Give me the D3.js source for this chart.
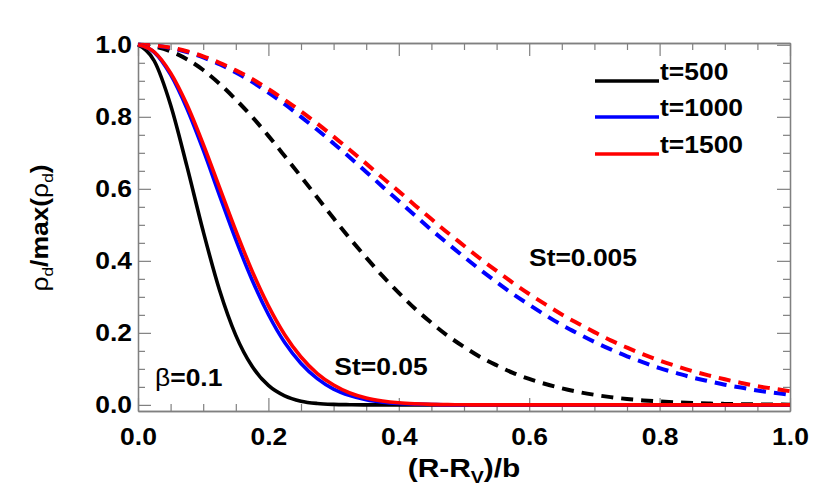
<!DOCTYPE html>
<html>
<head>
<meta charset="utf-8">
<script src="https://cdn.jsdelivr.net/npm/d3@7"></script>
<style>
  body { margin: 0; background: #fff; }
  text { font-family: "Liberation Sans", Arial, sans-serif; font-weight: bold; }
</style>
</head>
<body>
<svg id="chart" width="830" height="499"></svg>
<script>
// sample positions along (R-Rv)/b
const xs = d3.range(41).map((i) => i * 0.025);

// St=0.05 (solid)
const solid500 = [1, 0.955, 0.833, 0.663, 0.482, 0.319, 0.193, 0.107, 0.054, 0.025, 0.0104,
  0.004, 0.0014, 0.0005, 0, 0, 0, 0, 0, 0, 0, 0, 0, 0, 0, 0, 0, 0, 0, 0, 0, 0, 0, 0, 0, 0, 0, 0, 0, 0, 0];
const solid1000 = [1, 0.979, 0.917, 0.823, 0.708, 0.582, 0.459, 0.347, 0.251, 0.173, 0.115,
  0.073, 0.044, 0.026, 0.0144, 0.0077, 0.004, 0.002, 0.001, 0, 0, 0, 0, 0, 0, 0, 0, 0, 0, 0, 0, 0, 0, 0, 0, 0, 0, 0, 0, 0, 0];
const solid1500 = [1, 0.98, 0.922, 0.834, 0.724, 0.604, 0.484, 0.372, 0.275, 0.195, 0.133,
  0.087, 0.055, 0.033, 0.019, 0.0107, 0.0057, 0.003, 0.0014, 0.0007, 0.0003, 0, 0, 0, 0, 0, 0, 0, 0, 0, 0, 0, 0, 0, 0, 0, 0, 0, 0, 0, 0];

// St=0.005 (dashed)
const dash500 = [1, 0.995, 0.982, 0.96, 0.93, 0.892, 0.848, 0.8, 0.747, 0.691, 0.634,
  0.576, 0.518, 0.462, 0.409, 0.358, 0.311, 0.267, 0.228, 0.192, 0.161,
  0.133, 0.11, 0.089, 0.072, 0.058, 0.046, 0.036, 0.028, 0.0215, 0.0164,
  0.0124, 0.0093, 0.0069, 0.0051, 0.0037, 0.0027, 0.0019, 0.0014, 0.001, 0.0007];
const dash1000 = [1, 0.998, 0.991, 0.98, 0.965, 0.946, 0.923, 0.897, 0.867, 0.835, 0.8,
  0.764, 0.726, 0.687, 0.647, 0.606, 0.566, 0.526, 0.486, 0.448, 0.411,
  0.375, 0.341, 0.308, 0.278, 0.249, 0.222, 0.198, 0.175, 0.154, 0.135,
  0.118, 0.102, 0.089, 0.076, 0.066, 0.056, 0.048, 0.04, 0.034, 0.028];
const dash1500 = [1, 0.998, 0.992, 0.982, 0.968, 0.95, 0.929, 0.905, 0.877, 0.847, 0.815,
  0.781, 0.745, 0.708, 0.67, 0.631, 0.593, 0.554, 0.516, 0.478, 0.442,
  0.406, 0.372, 0.339, 0.308, 0.279, 0.251, 0.226, 0.202, 0.179, 0.159,
  0.14, 0.123, 0.108, 0.094, 0.082, 0.071, 0.061, 0.052, 0.045, 0.038];

const times = ["t=500", "t=1000", "t=1500"];
const colors = ["#000000", "#0000ff", "#ff0000"];
const xMajor = [0, 0.2, 0.4, 0.6, 0.8, 1.0];
const yMajor = [0, 0.2, 0.4, 0.6, 0.8, 1.0];

const SX = 1.15; // wide glyphs of the original font
const FS = 23;
const svg = d3.select("#chart");
const plot = { left: 138, right: 790, top: 43, bottom: 411 };

const x = d3.scaleLinear().domain([0, 1]).range([plot.left, plot.right]);
const y = d3.scaleLinear().domain([-0.017, 1.005]).range([plot.bottom, plot.top]);

const minor = d3.range(21).map((i) => i * 0.05).filter((v) => Math.round(v * 100) % 20 !== 0);

function styleAxis(g) {
  g.select(".domain").attr("stroke", "#808080").attr("stroke-width", 1.3);
  g.selectAll(".tick line").attr("stroke", "#808080").attr("stroke-width", 1.2);
}

// bottom
svg.append("g").attr("transform", `translate(0,${plot.bottom})`)
  .call(d3.axisBottom(x).tickValues(xMajor).tickFormat(d3.format(".1f")).tickSize(-13).tickPadding(18).tickSizeOuter(0))
  .call(styleAxis)
  .call((g) => g.selectAll("text").attr("fill", "#000").style("font-size", FS + "px").attr("transform", `scale(${SX},1)`));
svg.append("g").attr("transform", `translate(0,${plot.bottom})`)
  .call(d3.axisBottom(x).tickValues(minor).tickFormat("").tickSize(-7).tickSizeOuter(0))
  .call(styleAxis);
// top
svg.append("g").attr("transform", `translate(0,${plot.top})`)
  .call(d3.axisTop(x).tickValues(xMajor).tickFormat("").tickSize(-13).tickSizeOuter(0)).call(styleAxis);
svg.append("g").attr("transform", `translate(0,${plot.top})`)
  .call(d3.axisTop(x).tickValues(minor).tickFormat("").tickSize(-7).tickSizeOuter(0)).call(styleAxis);
// left
svg.append("g").attr("transform", `translate(${plot.left},0)`)
  .call(d3.axisLeft(y).tickValues(yMajor).tickFormat(d3.format(".1f")).tickSize(-13).tickPadding(6).tickSizeOuter(0))
  .call(styleAxis)
  .call((g) => g.selectAll("text").attr("fill", "#000").style("font-size", FS + "px")
    .attr("x", -6 / SX).attr("transform", `scale(${SX},1)`));
svg.append("g").attr("transform", `translate(${plot.left},0)`)
  .call(d3.axisLeft(y).tickValues(minor).tickFormat("").tickSize(-7).tickSizeOuter(0)).call(styleAxis);
// right
svg.append("g").attr("transform", `translate(${plot.right},0)`)
  .call(d3.axisRight(y).tickValues(yMajor).tickFormat("").tickSize(-13).tickSizeOuter(0)).call(styleAxis);
svg.append("g").attr("transform", `translate(${plot.right},0)`)
  .call(d3.axisRight(y).tickValues(minor).tickFormat("").tickSize(-7).tickSizeOuter(0)).call(styleAxis);

// curves
const line = d3.line().x((d) => x(d[0])).y((d) => y(d[1])).curve(d3.curveMonotoneX);
const dashed = [dash500, dash1000, dash1500];
const solid = [solid500, solid1000, solid1500];

dashed.forEach((vals, i) => {
  svg.append("path").datum(xs.map((v, j) => [v, vals[j]]))
    .attr("d", line).attr("fill", "none").attr("stroke", colors[i])
    .attr("stroke-width", 4).attr("stroke-dasharray", "12,8");
});
solid.forEach((vals, i) => {
  svg.append("path").datum(xs.map((v, j) => [v, vals[j]]))
    .attr("d", line).attr("fill", "none").attr("stroke", colors[i])
    .attr("stroke-width", 3.6);
});

// wide text helper
function label(px, py, anchor, size) {
  return svg.append("g").attr("transform", `translate(${px},${py}) scale(${SX},1)`)
    .append("text").attr("text-anchor", anchor).style("font-size", (size || FS) + "px");
}

// legend
const legY = [81, 117, 154];
times.forEach((t, i) => {
  svg.append("line").attr("x1", 595).attr("x2", 659).attr("y1", legY[i]).attr("y2", legY[i])
    .attr("stroke", colors[i]).attr("stroke-width", 3.6);
  label(660, legY[i] - 1, "start").text(t);
});

// annotations
label(583, 266, "middle").text("St=0.005");
label(381, 375, "middle").text("St=0.05");
const beta = label(155, 386, "start");
beta.append("tspan").style("font-weight", "normal").text("β");
beta.append("tspan").text("=0.1");

// axis titles
const xt = label(464, 477, "middle", 26);
xt.append("tspan").text("(R-R");
xt.append("tspan").attr("dy", 6).style("font-size", "17px").text("V");
xt.append("tspan").attr("dy", -6).text(")/b");

const yt = svg.append("g").attr("transform", `translate(48,228) rotate(-90) scale(${SX},1)`)
  .append("text").attr("text-anchor", "middle").style("font-size", FS + "px");
yt.append("tspan").style("font-weight", "normal").text("ρ");
yt.append("tspan").attr("dy", 5).style("font-size", "15px").style("font-weight", "normal").text("d");
yt.append("tspan").attr("dy", -5).text("/max(");
yt.append("tspan").style("font-weight", "normal").text("ρ");
yt.append("tspan").attr("dy", 5).style("font-size", "15px").style("font-weight", "normal").text("d");
yt.append("tspan").attr("dy", -5).text(")");
</script>
</body>
</html>
